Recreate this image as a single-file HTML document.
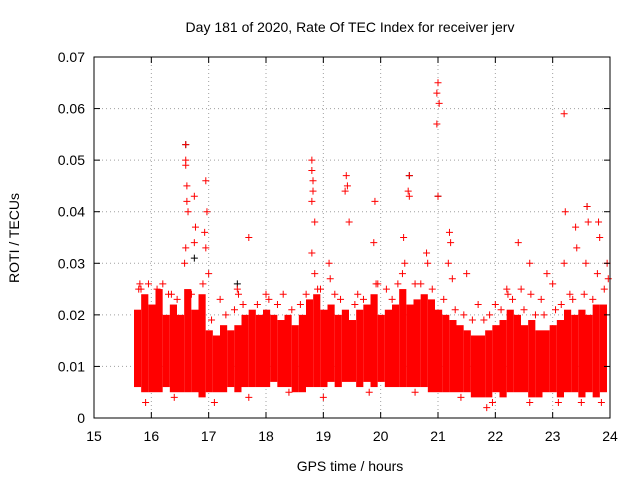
<!DOCTYPE html>
<html><head><meta charset="utf-8">
<style>
body{margin:0;background:#fff;}
svg{display:block;font-family:"Liberation Sans",sans-serif;}
</style></head>
<body>
<svg id="chart" width="640" height="480" viewBox="0 0 640 480">
<text x="350" y="32" font-size="14" text-anchor="middle">Day 181 of 2020, Rate Of TEC Index for receiver jerv</text>
<text x="350" y="471" font-size="14" text-anchor="middle">GPS time / hours</text>
<text x="19" y="238" font-size="14" text-anchor="middle" transform="rotate(-90 19 238)">ROTI / TECUs</text>
<g id="grid"></g><g id="core"></g><g id="pts"></g><g id="axes"></g>
</svg>
<script>
const xTicks=[15,16,17,18,19,20,21,22,23,24];
const yTicks=[0,0.01,0.02,0.03,0.04,0.05,0.06,0.07];
const yTickLabels=["0","0.01","0.02","0.03","0.04","0.05","0.06","0.07"];
const binStart=[15.75,15.875,16,16.125,16.25,16.375,16.5,16.625,16.75,16.875,17,17.125,17.25,17.375,17.5,17.625,17.75,17.875,18,18.125,18.25,18.375,18.5,18.625,18.75,18.875,19,19.125,19.25,19.375,19.5,19.625,19.75,19.875,20,20.125,20.25,20.375,20.5,20.625,20.75,20.875,21,21.125,21.25,21.375,21.5,21.625,21.75,21.875,22,22.125,22.25,22.375,22.5,22.625,22.75,22.875,23,23.125,23.25,23.375,23.5,23.625,23.75,23.875];
const binHigh=[0.021,0.024,0.022,0.025,0.02,0.022,0.02,0.025,0.021,0.024,0.017,0.016,0.018,0.017,0.018,0.02,0.021,0.02,0.021,0.02,0.019,0.02,0.018,0.02,0.023,0.024,0.021,0.022,0.02,0.021,0.019,0.021,0.022,0.024,0.02,0.021,0.022,0.025,0.022,0.023,0.024,0.023,0.021,0.02,0.019,0.018,0.017,0.016,0.016,0.017,0.018,0.019,0.021,0.02,0.018,0.019,0.017,0.017,0.018,0.019,0.021,0.02,0.021,0.02,0.022,0.022];
const binLow=[0.006,0.005,0.005,0.005,0.006,0.005,0.005,0.005,0.005,0.004,0.005,0.005,0.005,0.006,0.005,0.006,0.006,0.006,0.006,0.007,0.006,0.006,0.005,0.005,0.006,0.006,0.006,0.007,0.006,0.007,0.007,0.006,0.007,0.006,0.007,0.006,0.006,0.006,0.006,0.006,0.006,0.005,0.005,0.005,0.005,0.005,0.005,0.004,0.004,0.004,0.005,0.004,0.005,0.005,0.005,0.004,0.004,0.005,0.005,0.004,0.005,0.005,0.004,0.005,0.004,0.005];
const spikeT=[16.6,16.6,16.6,16.62,16.62,16.64,16.6,16.58,16.75,16.77,16.75,16.95,16.97,16.93,16.95,17.0,17.5,17.52,17.7,18.8,18.8,18.82,18.82,18.8,18.85,18.8,18.85,18.9,19.1,19.12,19.4,19.42,19.38,19.45,19.9,19.88,19.92,20.4,20.42,20.38,20.5,20.48,20.5,21.0,20.98,21.02,20.98,21.0,21.2,21.22,21.18,21.25,20.8,20.82,22.4,22.45,22.6,22.62,22.9,23.2,23.22,23.2,23.4,23.42,23.6,23.62,23.58,23.8,23.82,23.78,23.95,23.97,16.2,15.8,15.82,18.3,21.5,22.2,22.22,23.0,16.3,17.2,18.0,19.6,20.1,21.7,22.0,22.8,23.3];
const spikeV=[0.053,0.05,0.049,0.045,0.042,0.04,0.033,0.03,0.043,0.037,0.034,0.046,0.04,0.036,0.033,0.028,0.025,0.024,0.035,0.05,0.048,0.046,0.044,0.042,0.038,0.032,0.028,0.025,0.03,0.027,0.047,0.045,0.044,0.038,0.042,0.034,0.026,0.035,0.03,0.028,0.047,0.044,0.043,0.065,0.063,0.061,0.057,0.043,0.036,0.034,0.03,0.027,0.032,0.03,0.034,0.025,0.03,0.024,0.028,0.059,0.04,0.03,0.037,0.033,0.041,0.038,0.03,0.038,0.035,0.028,0.03,0.027,0.026,0.026,0.025,0.024,0.028,0.025,0.024,0.026,0.024,0.023,0.024,0.024,0.025,0.022,0.022,0.023,0.024];
const edgeT=[15.78,15.95,16.1,16.35,16.45,16.7,16.9,17.05,17.3,17.45,17.6,17.85,18.05,18.2,18.45,18.6,18.7,18.95,19.2,19.3,19.55,19.7,19.95,20.2,20.3,20.6,20.7,20.9,21.1,21.3,21.45,21.6,21.8,21.9,22.1,22.3,22.5,22.7,22.85,23.05,23.15,23.35,23.55,23.7,23.9,15.9,16.4,17.1,17.7,18.4,19.0,19.8,20.6,21.4,21.85,21.95,22.6,23.1,23.5,23.85];
const edgeV=[0.025,0.026,0.025,0.024,0.023,0.024,0.026,0.019,0.02,0.021,0.022,0.022,0.023,0.022,0.021,0.022,0.024,0.025,0.024,0.023,0.022,0.023,0.026,0.023,0.026,0.026,0.026,0.025,0.023,0.021,0.02,0.019,0.019,0.02,0.021,0.023,0.021,0.02,0.02,0.021,0.022,0.023,0.024,0.023,0.025,0.003,0.004,0.003,0.004,0.005,0.004,0.005,0.005,0.004,0.002,0.003,0.003,0.003,0.003,0.003];
const blackT=[16.6,20.5,23.6,17.5,21.0,16.75];
const blackV=[0.053,0.047,0.041,0.026,0.043,0.031];

const X0=94,X1=610,Y0=418,Y1=57;
const xs=t=>X0+(t-15)/9*(X1-X0);
const ys=v=>Y0-v/0.07*(Y0-Y1);
const NS="http://www.w3.org/2000/svg";
function mk(tag,attrs,parent){const e=document.createElementNS(NS,tag);for(const k in attrs)e.setAttribute(k,attrs[k]);parent.appendChild(e);return e;}
const grid=document.getElementById('grid'),axes=document.getElementById('axes'),core=document.getElementById('core'),pts=document.getElementById('pts');
xTicks.forEach((t,i)=>{
  if(i>0&&i<xTicks.length-1){const g=mk('line',{x1:xs(t),x2:xs(t),y1:Y1,y2:Y0,stroke:'#a0a0a0','stroke-dasharray':'1,3'},grid);
  
  }
  mk('line',{x1:xs(t),x2:xs(t),y1:Y0,y2:Y0-6,stroke:'#000'},axes);
  mk('line',{x1:xs(t),x2:xs(t),y1:Y1,y2:Y1+6,stroke:'#000'},axes);
  const l=mk('text',{x:xs(t),y:Y0+23,'font-size':14,'text-anchor':'middle'},axes);l.textContent=t;
  
  
});
yTicks.forEach((v,i)=>{
  if(i>0&&i<yTicks.length-1){const g=mk('line',{x1:X0,x2:X1,y1:ys(v),y2:ys(v),stroke:'#a0a0a0','stroke-dasharray':'1,3'},grid);
  
  }
  mk('line',{x1:X0,x2:X0+6,y1:ys(v),y2:ys(v),stroke:'#000'},axes);
  mk('line',{x1:X1,x2:X1-6,y1:ys(v),y2:ys(v),stroke:'#000'},axes);
  const l=mk('text',{x:X0-9,y:ys(v)+5,'font-size':14,'text-anchor':'end'},axes);l.textContent=yTickLabels[i];
  
  
});
const fr=mk('rect',{x:X0,y:Y1,width:X1-X0,height:Y0-Y1,fill:'none',stroke:'#000'},axes);


binStart.forEach((t,i)=>{
  const r=mk('rect',{x:xs(t)-3,y:ys(binHigh[i]),width:xs(t+0.125)-xs(t),height:ys(binLow[i])-ys(binHigh[i]),fill:'#f00'},core);
  
  
});
function plus(t,v,c,name){
  const x=xs(t),y=ys(v);
  const p=mk('path',{d:`M${x-3.5} ${y}H${x+3.5}M${x} ${y-3.5}V${y+3.5}`,stroke:c,'stroke-width':1},pts);
  
  
}
blackT.forEach((t,i)=>plus(t,blackV[i],'#000','black-point'));
edgeT.forEach((t,i)=>plus(t,edgeV[i],'#f00','roti-point'));
spikeT.forEach((t,i)=>plus(t,spikeV[i],'#f00','roti-point'));
</script>
</body></html>
